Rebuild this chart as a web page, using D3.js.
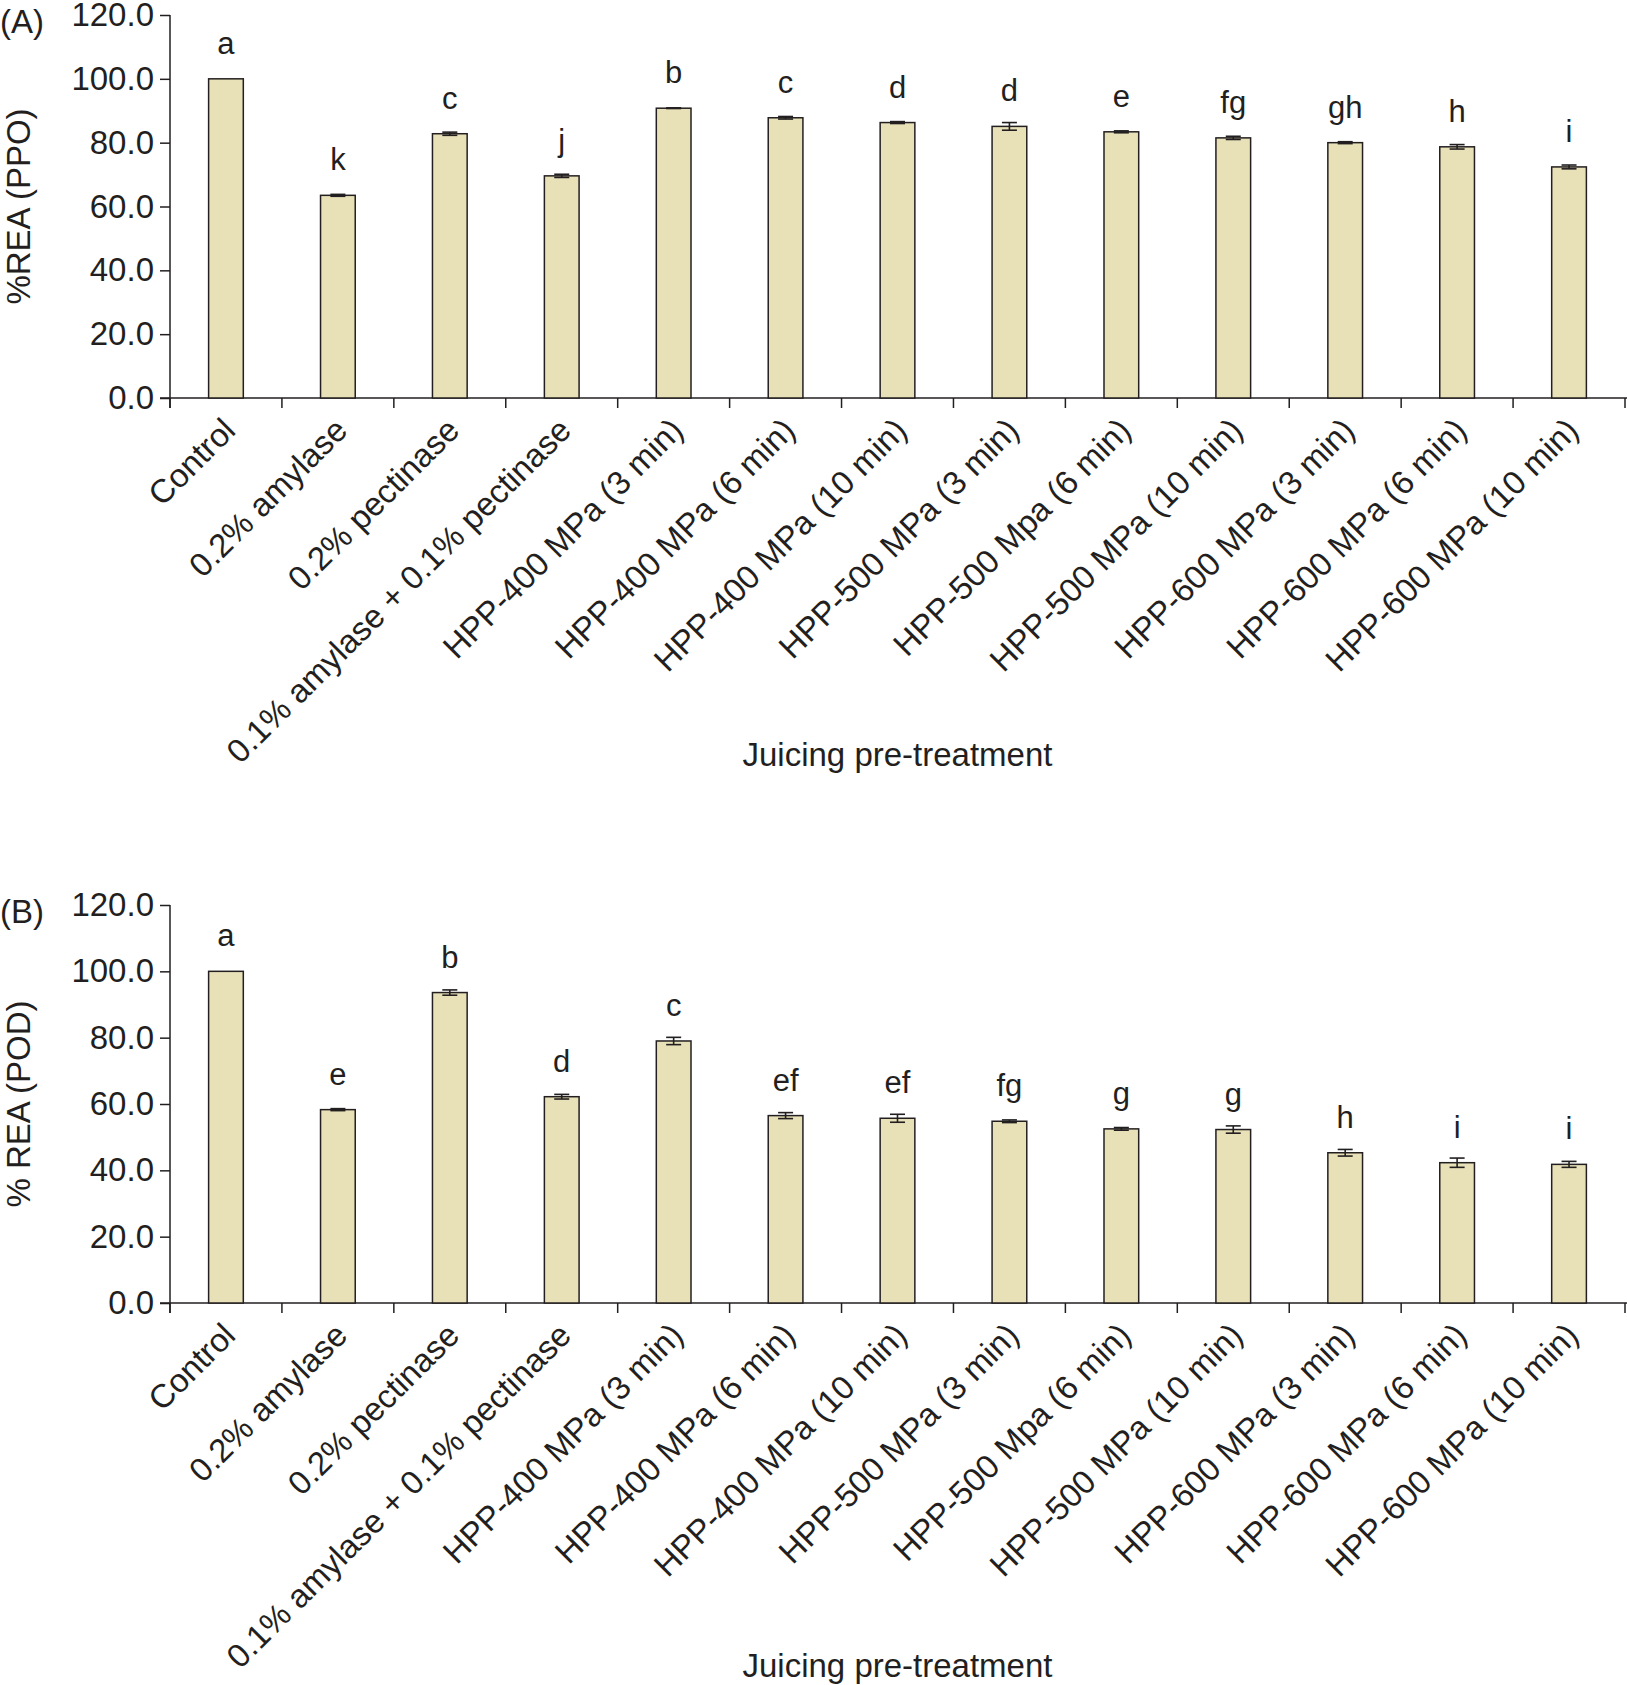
<!DOCTYPE html>
<html>
<head>
<meta charset="utf-8">
<script src="https://cdn.jsdelivr.net/npm/d3@7"></script>
<style>
  body { margin: 0; background: #fff; }
  svg text { font-family: "Liberation Sans", Arial, Helvetica, sans-serif; fill: #231f20; }
</style>
</head>
<body>
<svg id="chart" width="1627" height="1685"></svg>
<script>
// ========================
// DATA
// ========================
const treatments = [
    "Control", "0.2% amylase", "0.2% pectinase", "0.1% amylase + 0.1% pectinase",
    "HPP-400 MPa (3 min)", "HPP-400 MPa (6 min)", "HPP-400 MPa (10 min)",
    "HPP-500 MPa (3 min)", "HPP-500 Mpa (6 min)", "HPP-500 MPa (10 min)",
    "HPP-600 MPa (3 min)", "HPP-600 MPa (6 min)", "HPP-600 MPa (10 min)"
];
const yTicks = [0, 20, 40, 60, 80, 100, 120];

const ppoValues = [100, 63.5, 82.8, 69.6, 90.8, 87.8, 86.3, 85.1, 83.4, 81.5, 80.0, 78.7, 72.4];
const ppoErrors = [0, 0.3, 0.5, 0.5, 0.1, 0.4, 0.3, 1.2, 0.3, 0.5, 0.3, 0.7, 0.6];
const ppoLetters = ["a", "k", "c", "j", "b", "c", "d", "d", "e", "fg", "gh", "h", "i"];

const podValues = [100, 58.3, 93.6, 62.2, 79.0, 56.5, 55.7, 54.8, 52.5, 52.3, 45.3, 42.3, 41.8];
const podErrors = [0, 0.3, 0.8, 0.7, 1.1, 0.9, 1.2, 0.4, 0.4, 1.1, 1.0, 1.4, 0.9];
const podLetters = ["a", "e", "b", "d", "c", "ef", "ef", "fg", "g", "g", "h", "i", "i"];

// ========================
// DRAWING
// ========================
const svg = d3.select("#chart");
const INK = "#231f20";
const BAR_FILL = "#e8e1b8";
const FONT = 33;

const x = d3.scaleBand().domain(treatments).range([170, 1625]).padding(0);
const barW = x.bandwidth() * 0.31;

function drawPanel(opts) {
    const { values, errors, letters, top, bottom, yTitle, panelLabel, xTitleY } = opts;
    const y = d3.scaleLinear().domain([0, 120]).range([bottom, top]);
    const g = svg.append("g");

    // y axis
    const yAxis = d3.axisLeft(y).tickValues(yTicks).tickSize(10).tickPadding(6)
        .tickFormat(d3.format(".1f"));
    const ya = g.append("g").attr("transform", "translate(170,0)").call(yAxis);
    ya.select(".domain").remove();
    ya.selectAll("line").attr("stroke", INK).attr("stroke-width", 1.5);
    ya.selectAll("text").attr("font-size", FONT).attr("fill", INK)
        .style("font-family", "'Liberation Sans', Arial, sans-serif");
    g.append("line").attr("x1", 170).attr("x2", 170)
        .attr("y1", y(120)).attr("y2", bottom + 10)
        .attr("stroke", INK).attr("stroke-width", 1.5);

    // x axis line + boundary ticks
    g.append("line").attr("x1", 160).attr("x2", 1627)
        .attr("y1", bottom).attr("y2", bottom)
        .attr("stroke", INK).attr("stroke-width", 1.5);
    const bounds = treatments.map(t => x(t)).concat([x(treatments[treatments.length - 1]) + x.bandwidth()]);
    g.selectAll(".xtick").data(bounds).enter().append("line")
        .attr("x1", d => d).attr("x2", d => d)
        .attr("y1", bottom).attr("y2", bottom + 10)
        .attr("stroke", INK).attr("stroke-width", 1.5);

    // bars
    const cx = t => x(t) + x.bandwidth() / 2;
    g.selectAll(".bar").data(treatments).enter().append("rect")
        .attr("x", t => cx(t) - barW / 2)
        .attr("y", (t, i) => y(values[i]))
        .attr("width", barW)
        .attr("height", (t, i) => bottom - y(values[i]))
        .attr("fill", BAR_FILL).attr("stroke", INK).attr("stroke-width", 1.5);

    // error bars
    treatments.forEach((t, i) => {
        if (!errors[i]) return;
        const hi = y(values[i] + errors[i]), lo = y(values[i] - errors[i]);
        const c = cx(t);
        g.append("line").attr("x1", c).attr("x2", c).attr("y1", hi).attr("y2", lo)
            .attr("stroke", INK).attr("stroke-width", 1.6);
        [hi, lo].forEach(yy => g.append("line")
            .attr("x1", c - 7.5).attr("x2", c + 7.5).attr("y1", yy).attr("y2", yy)
            .attr("stroke", INK).attr("stroke-width", 1.6));
    });

    // significance letters
    g.selectAll(".letter").data(treatments).enter().append("text")
        .attr("x", cx)
        .attr("y", (t, i) => y(values[i]) - 25)
        .attr("text-anchor", "middle")
        .attr("font-size", 31)
        .text((t, i) => letters[i]);

    // rotated category labels
    g.selectAll(".cat").data(treatments).enter().append("text")
        .attr("transform", t => `translate(${cx(t) - 5},${bottom + 18}) rotate(-45)`)
        .attr("text-anchor", "end")
        .attr("dy", "0.7em")
        .attr("font-size", FONT)
        .text(t => t);

    // titles
    g.append("text").attr("x", (170 + 1625) / 2).attr("y", xTitleY)
        .attr("text-anchor", "middle").attr("font-size", FONT)
        .text("Juicing pre-treatment");
    g.append("text")
        .attr("transform", `translate(30,${(top + bottom) / 2}) rotate(-90)`)
        .attr("text-anchor", "middle").attr("font-size", FONT)
        .text(yTitle);
    g.append("text").attr("x", 0).attr("y", top + 18).attr("font-size", FONT)
        .text(panelLabel);
}

drawPanel({
    values: ppoValues, errors: ppoErrors, letters: ppoLetters,
    top: 15, bottom: 398, yTitle: "%REA (PPO)", panelLabel: "(A)", xTitleY: 766
});
drawPanel({
    values: podValues, errors: podErrors, letters: podLetters,
    top: 905, bottom: 1303, yTitle: "% REA (POD)", panelLabel: "(B)", xTitleY: 1677
});
</script>
</body>
</html>
